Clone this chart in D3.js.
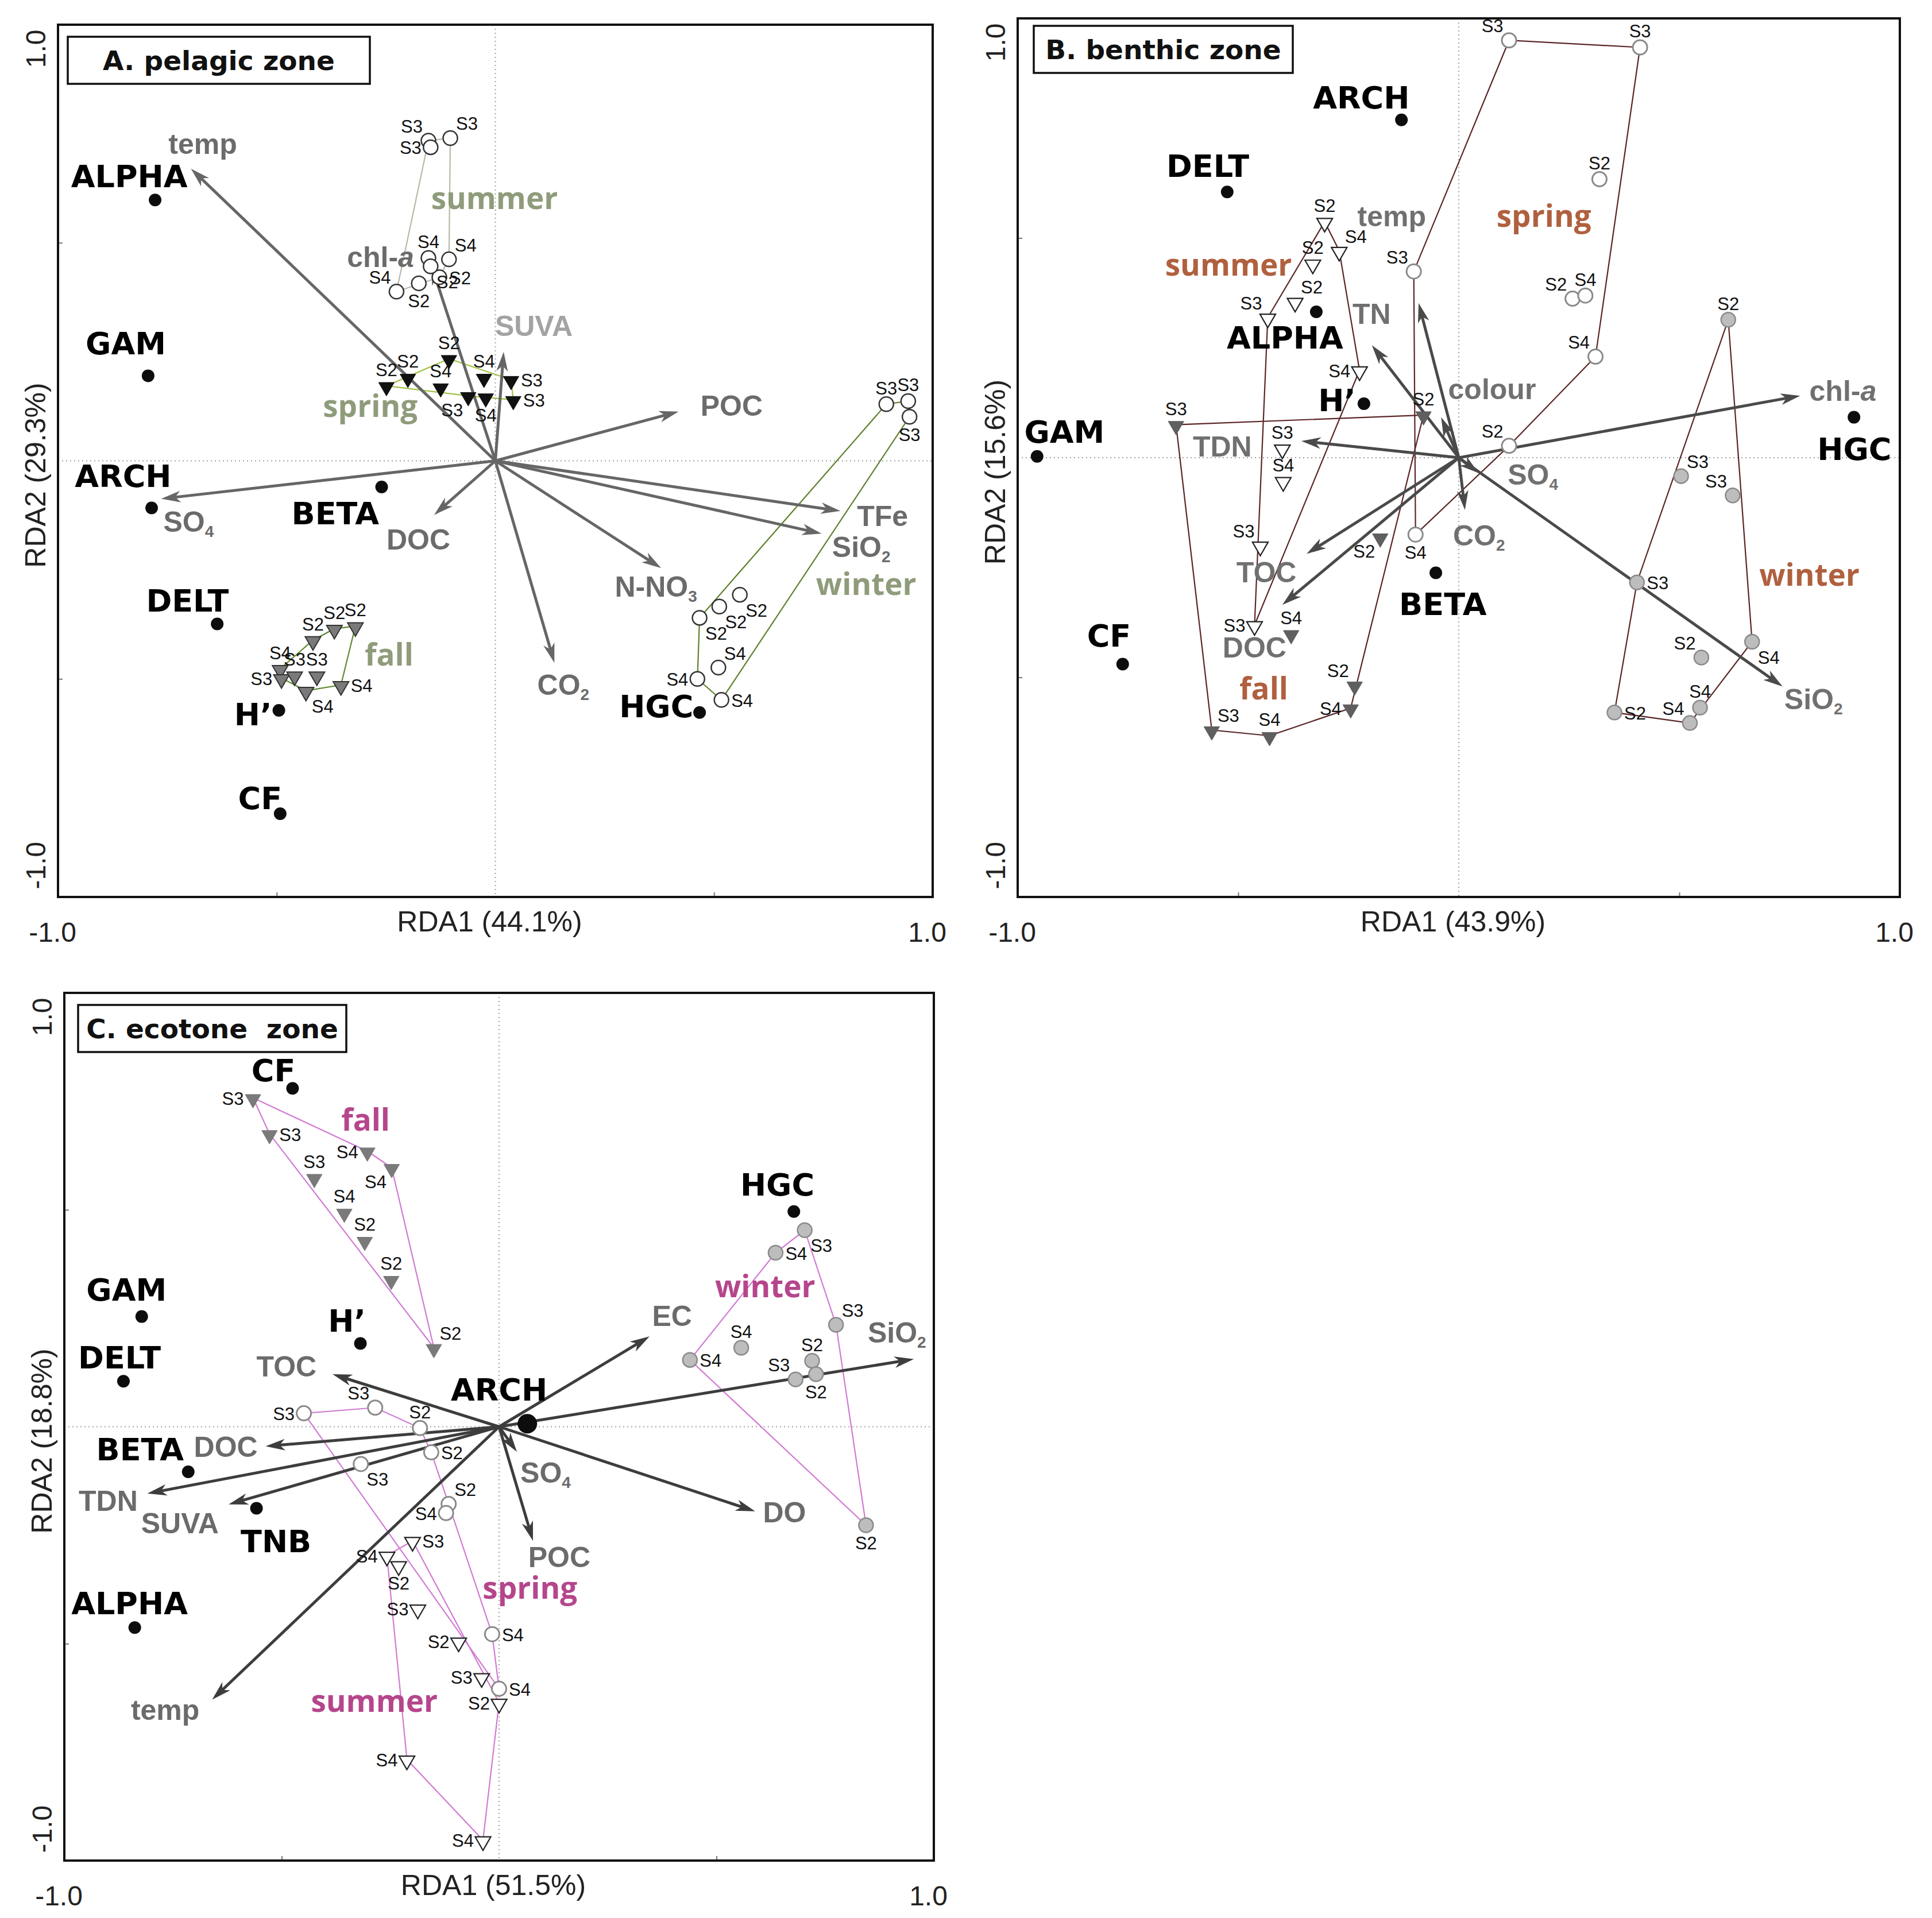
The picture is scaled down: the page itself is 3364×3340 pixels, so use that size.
<!DOCTYPE html>
<html>
<head>
<meta charset="utf-8">
<script src="https://cdn.jsdelivr.net/npm/d3@7"></script>
<style>
  body { margin: 0; background: #fff; }
</style>
</head>
<body>
<svg id="fig"></svg>
<script>
// ---------------- data (RDA1, RDA2 scores) ----------------
// "_" starts a subscript, "*" starts italics in a label

// A. pelagic zone
const pelagicSpecies = [["ALPHA", -0.778, 0.598], ["GAM", -0.794, 0.195], ["ARCH", -0.786, -0.108],
  ["BETA", -0.260, -0.060], ["DELT", -0.636, -0.374], ["H’", -0.495, -0.572], ["CF", -0.492, -0.809],
  ["HGC", 0.467, -0.577]];
const pelagicSpeciesLabelAt = [[-0.837, 0.627], [-0.845, 0.244], [-0.851, -0.060], [-0.366, -0.145],
  [-0.704, -0.346], [-0.554, -0.606], [-0.538, -0.798], [0.368, -0.588]];
const pelagicEnv = [["temp", -0.696, 0.670], ["chl-*a", -0.146, 0.448], ["SUVA", 0.019, 0.250],
  ["POC", 0.419, 0.113], ["SO_4", -0.764, -0.087], ["DOC", -0.140, -0.124], ["TFe", 0.789, -0.115],
  ["SiO_2", 0.746, -0.167], ["N-NO_3", 0.379, -0.246], ["CO_2", 0.135, -0.463]];
const pelagicEnvLabelAt = [[-0.669, 0.704, "middle"], [-0.186, 0.445, "end"], [0.088, 0.286, "middle"],
  [0.469, 0.103, "start"], [-0.759, -0.163, "start"], [-0.176, -0.204, "middle"], [0.827, -0.150, "start"],
  [0.770, -0.220, "start"], [0.273, -0.312, "start"], [0.096, -0.537, "start"]];
const pelagicSummer = [["S3", -0.153, 0.734], ["S3", -0.148, 0.719], ["S3", -0.103, 0.740], ["S4", -0.153, 0.465],
  ["S4", -0.106, 0.462], ["S4", -0.226, 0.388], ["S2", -0.128, 0.421], ["S2", -0.175, 0.407], ["S2", -0.148, 0.446]];
const pelagicSpring = [["S2", -0.249, 0.172], ["S2", -0.200, 0.191], ["S2", -0.106, 0.234], ["S4", -0.125, 0.169],
  ["S3", -0.062, 0.149], ["S4", -0.026, 0.191], ["S4", -0.022, 0.146], ["S3", 0.036, 0.186], ["S3", 0.041, 0.140]];
const pelagicFall = [["S2", -0.417, -0.411], ["S2", -0.368, -0.385], ["S2", -0.320, -0.379], ["S4", -0.492, -0.477],
  ["S3", -0.489, -0.498], ["S3", -0.459, -0.492], ["S3", -0.408, -0.492], ["S4", -0.433, -0.527], ["S4", -0.353, -0.514]];
const pelagicWinter = [["S3", 0.894, 0.130], ["S3", 0.944, 0.137], ["S3", 0.947, 0.101], ["S2", 0.559, -0.307],
  ["S2", 0.512, -0.334], ["S2", 0.467, -0.360], ["S4", 0.510, -0.474], ["S4", 0.462, -0.500], ["S4", 0.517, -0.548]];
const pelagicSummerTag = ["nw", "w", "ne", "n", "ne", "nw", "e", "s", "se"];
const pelagicSpringTag = ["n", "n", "n", "n", "sw", "n", "s", "e", "e"];
const pelagicFallTag = ["n", "n", "n", "n", "w", "n", "n", "se", "e"];
const pelagicWinterTag = ["n", "n", "s", "se", "se", "se", "ne", "w", "e"];
const pelagicSeasonLabelAt = [[-0.002, 0.578], [-0.286, 0.101], [-0.243, -0.470], [0.848, -0.308]];

// B. benthic zone
const benthicSpecies = [["ARCH", -0.130, 0.769], ["DELT", -0.525, 0.605], ["ALPHA", -0.323, 0.332],
  ["H’", -0.215, 0.123], ["GAM", -0.956, 0.003], ["CF", -0.762, -0.470], ["BETA", -0.052, -0.262],
  ["HGC", 0.896, 0.092]];
const benthicSpeciesLabelAt = [[-0.221, 0.795], [-0.569, 0.639], [-0.394, 0.248], [-0.276, 0.106],
  [-0.894, 0.034], [-0.793, -0.430], [-0.036, -0.358], [0.897, -0.005]];
const benthicEnv = [["temp", -0.091, 0.352], ["TN", -0.197, 0.256], ["colour", -0.040, 0.092],
  ["chl-*a", 0.774, 0.141], ["TDN", -0.357, 0.038], ["TOC", -0.345, -0.219], ["DOC", -0.400, -0.335],
  ["SO_4", 0.045, -0.035], ["CO_2", 0.014, -0.119], ["SiO_2", 0.734, -0.521]];
const benthicEnvLabelAt = [[-0.152, 0.527, "middle"], [-0.241, 0.304, "start"], [-0.024, 0.133, "start"],
  [0.795, 0.130, "start"], [-0.536, 0.003, "middle"], [-0.436, -0.284, "middle"], [-0.463, -0.455, "middle"],
  [0.111, -0.061, "start"], [-0.013, -0.200, "start"], [0.738, -0.572, "start"]];
const benthicSummer = [["S2", -0.304, 0.537], ["S4", -0.271, 0.471], ["S2", -0.331, 0.442], ["S2", -0.371, 0.355],
  ["S3", -0.433, 0.319], ["S4", -0.225, 0.199], ["S3", -0.400, 0.021], ["S4", -0.398, -0.053],
  ["S3", -0.450, -0.200], ["S3", -0.463, -0.381]];
const benthicSpring = [["S3", 0.114, 0.950], ["S3", 0.411, 0.934], ["S2", 0.319, 0.634], ["S2", 0.258, 0.362],
  ["S4", 0.287, 0.369], ["S4", 0.310, 0.230], ["S2", 0.114, 0.027], ["S3", -0.102, 0.424], ["S4", -0.098, -0.175]];
const benthicFall = [["S3", -0.641, 0.075], ["S2", -0.080, 0.097], ["S2", -0.178, -0.181], ["S4", -0.380, -0.401],
  ["S2", -0.236, -0.518], ["S4", -0.245, -0.570], ["S4", -0.429, -0.633], ["S3", -0.560, -0.620]];
const benthicWinter = [["S2", 0.611, 0.314], ["S3", 0.504, -0.042], ["S3", 0.621, -0.086], ["S3", 0.404, -0.284],
  ["S4", 0.665, -0.419], ["S2", 0.550, -0.455], ["S4", 0.547, -0.569], ["S4", 0.524, -0.604], ["S2", 0.353, -0.580]];
const benthicSummerTag = ["n", "ne", "n", "ne", "nw", "w", "n", "n", "nw", "w"];
const benthicSpringTag = ["nw", "n", "n", "nw", "n", "nw", "nw", "nw", "s"];
const benthicFallTag = ["n", "n", "sw", "n", "nw", "w", "n", "ne"];
const benthicWinterTag = ["n", "ne", "nw", "e", "se", "nw", "n", "nw", "e"];
const benthicSeasonLabelAt = [[-0.522, 0.414], [0.193, 0.526], [-0.442, -0.550], [0.795, -0.291]];

// C. ecotone zone
const ecotoneSpecies = [["CF", -0.475, 0.780], ["HGC", 0.678, 0.496], ["GAM", -0.822, 0.254],
  ["DELT", -0.864, 0.105], ["H’", -0.319, 0.192], ["ARCH", 0.065, 0.007], ["BETA", -0.715, -0.104],
  ["TNB", -0.558, -0.188], ["ALPHA", -0.838, -0.463]];
const ecotoneSpeciesLabelAt = [[-0.519, 0.796], [0.640, 0.533], [-0.857, 0.291], [-0.873, 0.135],
  [-0.350, 0.219], [0.0, 0.060], [-0.826, -0.077], [-0.513, -0.289], [-0.850, -0.432]];
const ecotoneEnv = [["TOC", -0.383, 0.121], ["EC", 0.346, 0.208], ["SiO_2", 0.954, 0.156],
  ["DOC", -0.537, -0.045], ["TDN", -0.809, -0.154], ["SUVA", -0.622, -0.179], ["temp", -0.660, -0.629],
  ["SO_4", 0.041, -0.058], ["POC", 0.078, -0.263], ["DO", 0.589, -0.195]];
const ecotoneEnvLabelAt = [[-0.489, 0.116, "middle"], [0.352, 0.232, "start"], [0.848, 0.194, "start"],
  [-0.702, -0.069, "start"], [-0.899, -0.194, "middle"], [-0.734, -0.246, "middle"], [-0.768, -0.676, "middle"],
  [0.049, -0.129, "start"], [0.067, -0.324, "start"], [0.607, -0.221, "start"]];
const ecotoneSummer = [["S3", -0.199, -0.263], ["S4", -0.258, -0.297], ["S2", -0.231, -0.319], ["S3", -0.187, -0.419],
  ["S2", -0.093, -0.495], ["S3", -0.040, -0.577], ["S4", -0.212, -0.767], ["S4", -0.037, -0.953], ["S2", 0.0, -0.636]];
const ecotoneSpring = [["S3", -0.449, 0.031], ["S3", -0.285, 0.044], ["S2", -0.182, -0.003], ["S2", -0.156, -0.059],
  ["S3", -0.318, -0.086], ["S2", -0.116, -0.178], ["S4", -0.122, -0.199], ["S4", -0.016, -0.478], ["S4", 0.0, -0.604]];
const ecotoneFall = [["S3", -0.566, 0.758], ["S3", -0.528, 0.675], ["S3", -0.425, 0.574], ["S4", -0.303, 0.635],
  ["S4", -0.247, 0.597], ["S4", -0.356, 0.494], ["S2", -0.309, 0.429], ["S2", -0.248, 0.339], ["S2", -0.150, 0.182]];
const ecotoneWinter = [["S3", 0.703, 0.453], ["S4", 0.636, 0.401], ["S3", 0.775, 0.235], ["S4", 0.557, 0.182],
  ["S4", 0.439, 0.154], ["S2", 0.720, 0.152], ["S2", 0.729, 0.121], ["S3", 0.682, 0.109], ["S2", 0.844, -0.227]];
const ecotoneSummerTag = ["e", "w", "s", "w", "w", "w", "w", "w", "w"];
const ecotoneSpringTag = ["w", "nw", "n", "e", "se", "ne", "w", "e", "e"];
const ecotoneFallTag = ["w", "e", "n", "w", "sw", "n", "n", "n", "ne"];
const ecotoneWinterTag = ["se", "e", "ne", "n", "e", "n", "s", "nw", "s"];
const ecotoneSeasonLabelAt = [[-0.287, -0.657], [0.071, -0.396], [-0.307, 0.682], [0.612, 0.298]];

const seasons = ["summer", "spring", "fall", "winter"];
const tickValues = [-1, 1];
const minorTicks = [-0.5, 0.5];

// ---------------- drawing ----------------
const W = 3364, H = 3340;
const svg = d3.select("#fig").attr("width", W).attr("height", H);
svg.append("rect").attr("width", W).attr("height", H).attr("fill", "#fff");

const SANS = "'Liberation Sans', Arial, sans-serif";
const VERD = "'DejaVu Sans', Verdana, sans-serif";
const OPEN = "'Open Sans', 'DejaVu Sans', sans-serif";

// site label offsets, pixels: [dx, dy, anchor]
const tagOffset = {
  n: [0, -17, "middle"], s: [0, 42, "middle"], e: [17, 12, "start"], w: [-16, 12, "end"],
  ne: [10, -14, "start"], nw: [-10, -14, "end"], se: [10, 38, "start"], sw: [-9, 36, "end"]
};

function richText(sel, s) {
  const i = s.indexOf("_"), j = s.indexOf("*");
  if (i >= 0) {
    sel.append("tspan").text(s.slice(0, i));
    sel.append("tspan").attr("font-size", "56%").attr("dy", 9).text(s.slice(i + 1));
  } else if (j >= 0) {
    sel.append("tspan").text(s.slice(0, j));
    sel.append("tspan").attr("font-style", "italic").text(s.slice(j + 1));
  } else {
    sel.text(s);
  }
}

function arrow(g, x0, y0, x1, y1, color, width) {
  const a = Math.atan2(y1 - y0, x1 - x0);
  const c = Math.cos(a), s = Math.sin(a);
  const hl = 34, hw = 10;
  g.append("line")
    .attr("x1", x0).attr("y1", y0)
    .attr("x2", x1 - hl * 0.7 * c).attr("y2", y1 - hl * 0.7 * s)
    .attr("stroke", color).attr("stroke-width", width);
  const pts = [
    [x1, y1],
    [x1 - hl * c - hw * s, y1 - hl * s + hw * c],
    [x1 - hl * 0.72 * c, y1 - hl * 0.72 * s],
    [x1 - hl * c + hw * s, y1 - hl * s - hw * c]
  ];
  g.append("path").attr("d", "M" + pts.join("L") + "Z").attr("fill", color);
}

function drawPanel(p) {
  const x = d3.scaleLinear().domain([-1, 1]).range([p.left, p.right]);
  const y = d3.scaleLinear().domain([-1, 1]).range([p.bottom, p.top]);
  const g = svg.append("g");

  // dotted zero lines
  g.append("line").attr("x1", x(0)).attr("x2", x(0)).attr("y1", p.top).attr("y2", p.bottom)
    .attr("stroke", "#a0a0a0").attr("stroke-width", 2).attr("stroke-dasharray", "2,5");
  g.append("line").attr("x1", p.left).attr("x2", p.right).attr("y1", y(0)).attr("y2", y(0))
    .attr("stroke", "#a0a0a0").attr("stroke-width", 2).attr("stroke-dasharray", "2,5");

  // minor ticks
  g.append("g").attr("transform", `translate(0,${p.bottom})`)
    .call(d3.axisBottom(x).tickValues(minorTicks).tickSize(-8).tickFormat(""))
    .call(a => a.select(".domain").remove())
    .selectAll("line").attr("stroke", "#777").attr("stroke-width", 2);
  g.append("g").attr("transform", `translate(${p.left},0)`)
    .call(d3.axisLeft(y).tickValues(minorTicks).tickSize(-8).tickFormat(""))
    .call(a => a.select(".domain").remove())
    .selectAll("line").attr("stroke", "#777").attr("stroke-width", 2);

  // tick labels
  const fmt = d => d.toFixed(1);
  const bx = g.append("g").attr("transform", `translate(0,${p.bottom})`)
    .call(d3.axisBottom(x).tickValues(tickValues).tickSize(0).tickPadding(44).tickFormat(fmt));
  bx.select(".domain").remove();
  bx.selectAll("text").attr("font-family", SANS).attr("font-size", 48).attr("fill", "#222")
    .attr("dx", -10);
  const ly = g.append("g").attr("transform", `translate(${p.left},0)`)
    .call(d3.axisLeft(y).tickValues(tickValues).tickSize(0).tickFormat(fmt));
  ly.select(".domain").remove();
  ly.selectAll("text")
    .attr("font-family", SANS).attr("font-size", 48).attr("fill", "#222")
    .attr("x", null).attr("dy", null)
    .attr("text-anchor", d => d > 0 ? "end" : "start")
    .attr("transform", d => `translate(-22,${d > 0 ? 8 : -14}) rotate(-90)`);

  // axis titles
  g.append("text").attr("x", (p.left + p.right) / 2 - 10).attr("y", p.bottom + 60)
    .attr("text-anchor", "middle").attr("font-family", SANS).attr("font-size", 50).attr("fill", "#222")
    .text(p.xTitle);
  g.append("text").attr("transform", `translate(${p.left - 22},${(p.top + p.bottom) / 2 + 25}) rotate(-90)`)
    .attr("text-anchor", "middle").attr("font-family", SANS).attr("font-size", 50).attr("fill", "#222")
    .text(p.yTitle);

  // season hulls
  p.sites.forEach((pts, k) => {
    const hull = d3.polygonHull(pts.map(d => [x(d[1]), y(d[2])]));
    g.append("path").attr("d", "M" + hull.join("L") + "Z")
      .attr("fill", "none").attr("stroke", p.hullColor[k]).attr("stroke-width", 2.2);
  });

  // environmental arrows
  p.env.forEach(d => arrow(g, x(0), y(0), x(d[1]), y(d[2]), p.arrowColor, 5));

  // site markers and labels
  const tri = d3.symbol().type(d3.symbolTriangle).size(320)();
  p.sites.forEach((pts, k) => {
    const st = p.marker[k];
    pts.forEach((d, i) => {
      const px = x(d[1]), py = y(d[2]);
      if (st.shape === "circle") {
        g.append("circle").attr("cx", px).attr("cy", py).attr("r", 12.5)
          .attr("fill", st.fill).attr("stroke", st.stroke).attr("stroke-width", st.sw);
      } else {
        g.append("path").attr("d", tri).attr("transform", `translate(${px},${py + 2}) rotate(180)`)
          .attr("fill", st.fill).attr("stroke", st.stroke).attr("stroke-width", st.sw);
      }
      const o = tagOffset[p.tags[k][i]];
      g.append("text").attr("x", px + o[0]).attr("y", py + o[1]).attr("text-anchor", o[2])
        .attr("font-family", SANS).attr("font-size", 31).attr("fill", "#111").text(d[0]);
    });
  });

  // environmental labels
  p.env.forEach((d, i) => {
    const l = p.envLabelAt[i];
    const t = g.append("text").attr("x", x(l[0])).attr("y", y(l[1])).attr("text-anchor", l[2])
      .attr("font-family", SANS).attr("font-weight", "bold").attr("font-size", 50)
      .attr("fill", d[0] === "SUVA" && p.lightSuva ? "#a3a3a3" : p.envColor);
    richText(t, d[0]);
  });

  // species
  p.species.forEach((d, i) => {
    g.append("circle").attr("cx", x(d[1])).attr("cy", y(d[2]))
      .attr("r", d[0] === "ARCH" && p.bigArch ? 17 : 11).attr("fill", "#0d0d0d");
    const l = p.speciesLabelAt[i];
    g.append("text").attr("x", x(l[0])).attr("y", y(l[1])).attr("text-anchor", "middle")
      .attr("font-family", VERD).attr("font-weight", "bold").attr("font-size", 54)
      .attr("fill", "#000").text(d[0]);
  });

  // season names
  seasons.forEach((s, k) => {
    const l = p.seasonLabelAt[k];
    g.append("text").attr("x", x(l[0])).attr("y", y(l[1])).attr("text-anchor", "middle")
      .attr("font-family", OPEN).attr("font-weight", "bold").attr("font-size", 53)
      .attr("fill", p.seasonColor).text(s);
  });

  // frame
  g.append("rect").attr("x", p.left).attr("y", p.top)
    .attr("width", p.right - p.left).attr("height", p.bottom - p.top)
    .attr("fill", "none").attr("stroke", "#111").attr("stroke-width", 4);

  // title box
  const bx0 = p.left + p.box[0], by0 = p.top + p.box[1];
  g.append("rect").attr("x", bx0).attr("y", by0).attr("width", p.box[2]).attr("height", p.box[3])
    .attr("fill", "#fff").attr("stroke", "#111").attr("stroke-width", 3.5);
  g.append("text").attr("x", bx0 + p.box[2] / 2).attr("y", by0 + p.box[3] / 2 + 17)
    .attr("text-anchor", "middle").attr("font-family", VERD).attr("font-weight", "bold")
    .attr("font-size", 47).attr("fill", "#111").attr("xml:space", "preserve").text(p.title);
}

drawPanel({
  left: 101, right: 1624, top: 43, bottom: 1562,
  title: "A. pelagic zone", box: [17, 21, 526, 82],
  xTitle: "RDA1 (44.1%)", yTitle: "RDA2 (29.3%)",
  species: pelagicSpecies, speciesLabelAt: pelagicSpeciesLabelAt,
  env: pelagicEnv, envLabelAt: pelagicEnvLabelAt,
  sites: [pelagicSummer, pelagicSpring, pelagicFall, pelagicWinter],
  tags: [pelagicSummerTag, pelagicSpringTag, pelagicFallTag, pelagicWinterTag],
  seasonLabelAt: pelagicSeasonLabelAt,
  hullColor: ["#b5baa7", "#9fc246", "#5f8a30", "#5e802b"],
  marker: [
    { shape: "circle", fill: "#fff", stroke: "#333", sw: 2.5 },
    { shape: "tri", fill: "#111", stroke: "#111", sw: 1 },
    { shape: "tri", fill: "#7a7a7a", stroke: "#333", sw: 2 },
    { shape: "circle", fill: "#fff", stroke: "#333", sw: 2.5 }
  ],
  arrowColor: "#666", envColor: "#6b6b6b", lightSuva: true,
  seasonColor: "#8f9c7b", bigArch: false
});

drawPanel({
  left: 1772, right: 3308, top: 32, bottom: 1562,
  title: "B. benthic zone", box: [28, 13, 451, 82],
  xTitle: "RDA1 (43.9%)", yTitle: "RDA2 (15.6%)",
  species: benthicSpecies, speciesLabelAt: benthicSpeciesLabelAt,
  env: benthicEnv, envLabelAt: benthicEnvLabelAt,
  sites: [benthicSummer, benthicSpring, benthicFall, benthicWinter],
  tags: [benthicSummerTag, benthicSpringTag, benthicFallTag, benthicWinterTag],
  seasonLabelAt: benthicSeasonLabelAt,
  hullColor: ["#5b2525", "#5b2525", "#5b2525", "#5b2525"],
  marker: [
    { shape: "tri", fill: "#fff", stroke: "#222", sw: 2.2 },
    { shape: "circle", fill: "#fff", stroke: "#8a8a8a", sw: 3 },
    { shape: "tri", fill: "#5f5f5f", stroke: "#5f5f5f", sw: 1 },
    { shape: "circle", fill: "#bdbdbd", stroke: "#8a8a8a", sw: 2.5 }
  ],
  arrowColor: "#4a4a4a", envColor: "#707070", lightSuva: false,
  seasonColor: "#b0603f", bigArch: false
});

drawPanel({
  left: 112, right: 1626, top: 1729, bottom: 3240,
  title: "C. ecotone  zone", box: [24, 21, 467, 82],
  xTitle: "RDA1 (51.5%)", yTitle: "RDA2 (18.8%)",
  species: ecotoneSpecies, speciesLabelAt: ecotoneSpeciesLabelAt,
  env: ecotoneEnv, envLabelAt: ecotoneEnvLabelAt,
  sites: [ecotoneSummer, ecotoneSpring, ecotoneFall, ecotoneWinter],
  tags: [ecotoneSummerTag, ecotoneSpringTag, ecotoneFallTag, ecotoneWinterTag],
  seasonLabelAt: ecotoneSeasonLabelAt,
  hullColor: ["#d27ad2", "#d27ad2", "#d27ad2", "#d27ad2"],
  marker: [
    { shape: "tri", fill: "#fff", stroke: "#222", sw: 2.2 },
    { shape: "circle", fill: "#fff", stroke: "#8a8a8a", sw: 3 },
    { shape: "tri", fill: "#7a7a7a", stroke: "#7a7a7a", sw: 1 },
    { shape: "circle", fill: "#bdbdbd", stroke: "#8a8a8a", sw: 2.5 }
  ],
  arrowColor: "#3d3d3d", envColor: "#6b6b6b", lightSuva: false,
  seasonColor: "#b5468c", bigArch: true
});
</script>
</body>
</html>
